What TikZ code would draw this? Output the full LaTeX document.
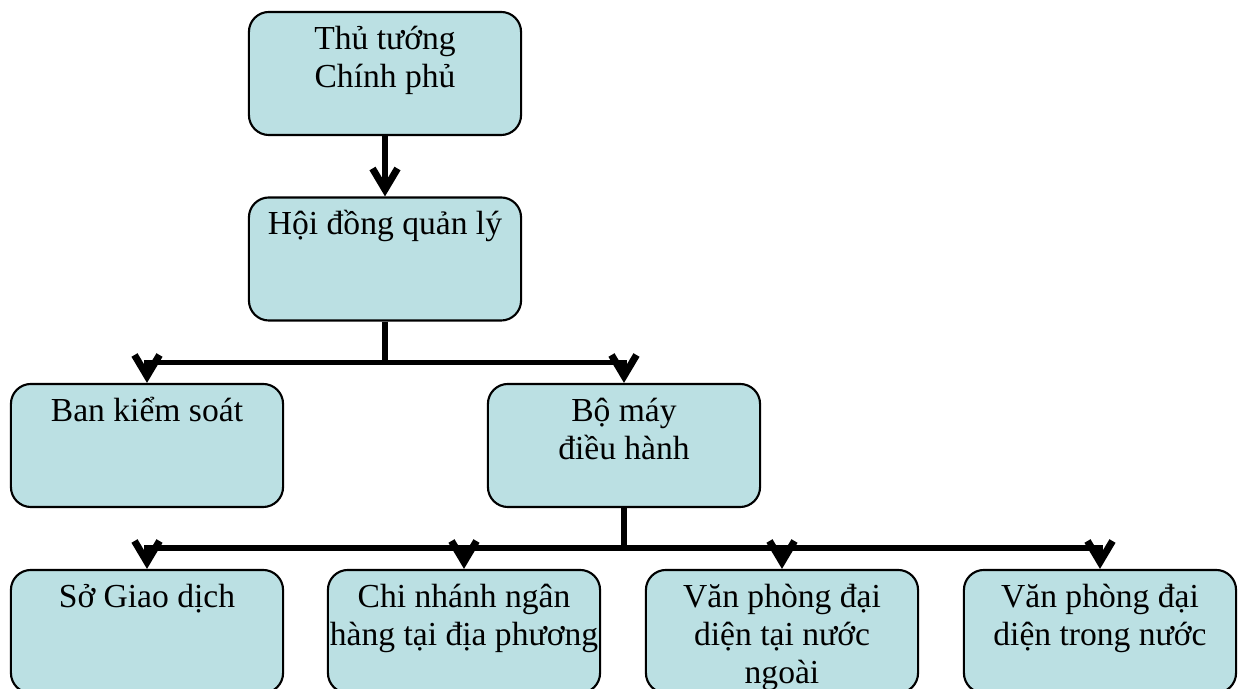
\documentclass[tikz,border=0pt]{standalone}
\usepackage{fontspec}
\setmainfont{Liberation Serif}
\usepackage{xcolor}
\usetikzlibrary{arrows.meta}
\definecolor{boxfill}{RGB}{187,224,227}

\begin{document}
\begin{tikzpicture}[x=0.01cm, y=-0.01cm,
  unit/.style={draw, rounded corners=0.2cm, fill=boxfill, line width=0.6pt,
    text width=3.0cm, align=flush center, inner xsep=-0.14cm, inner ysep=0pt,
    text height=0.375cm, text depth=0.855cm,
    font=\fontsize{9.55pt}{10.8pt}\selectfont},
  link/.style={-{Straight Barb[length=2.1mm, width=2.5mm, line width=2pt]},
    line width=1.6pt}
]
\useasboundingbox (0,0) rectangle (1238,689);

% Top levels
\node[unit] (ttcp) at (385,73.5) {Thủ tướng\\Chính phủ};
\node[unit] (hdql) at (385,259) {Hội đồng quản lý};

% Second level
\node[unit] (bks) at (147,445.5) {Ban kiểm soát};
\node[unit] (bmdh) at (624,445.5) {Bộ máy\\điều hành};

% Bottom level
\node[unit] (sgd) at (147,631.5) {Sở Giao dịch};
\node[unit] (cn) at (464,631.5) {Chi nhánh ngân\\hàng tại địa phương};
\node[unit] (vpnn) at (782,631.5) {Văn phòng đại\\diện tại nước\\ngoài};
\node[unit] (vptn) at (1100,631.5) {Văn phòng đại\\diện trong nước};

% Links
\draw[link] (ttcp) -- (hdql);
\draw[link] (hdql.south) -- ++(0,41) -| (bks.north);
\draw[link] (hdql.south) -- ++(0,41) -| (bmdh.north);
\draw[link] (bmdh.south) -- ++(0,40) -| (sgd.north);
\draw[link] (bmdh.south) -- ++(0,40) -| (cn.north);
\draw[link] (bmdh.south) -- ++(0,40) -| (vpnn.north);
\draw[link] (bmdh.south) -- ++(0,40) -| (vptn.north);

\end{tikzpicture}
\end{document}
